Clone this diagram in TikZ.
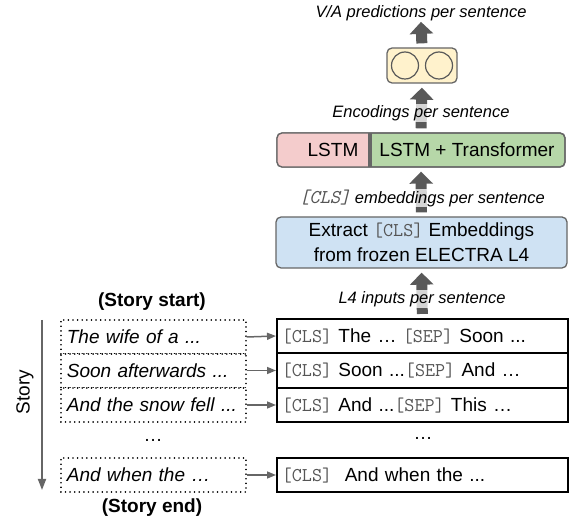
\documentclass[tikz,border=0pt]{standalone}
\usepackage{fontspec}
\setmainfont{Liberation Sans}
\usetikzlibrary{arrows.meta}
\definecolor{arrowgray}{HTML}{595959}
\definecolor{bordergray}{HTML}{666666}
\definecolor{yellowfill}{HTML}{FFF2CC}
\definecolor{pinkfill}{HTML}{F4CCCC}
\definecolor{greenfill}{HTML}{B6D7A8}
\definecolor{bluefill}{HTML}{CFE2F3}
\definecolor{clsgray}{HTML}{555555}
\newcommand{\tk}[1]{{\color{clsgray}\ttfamily\fontsize{19.5pt}{20pt}\selectfont #1}}
\tikzset{
  bigtxt/.style={font=\fontsize{19pt}{25pt}\selectfont, inner sep=0pt},
  lbl/.style={font=\fontsize{16.5pt}{19pt}\selectfont\itshape, fill=white, fill opacity=0.75, text opacity=1, inner sep=1pt},
  bigarrow/.style={draw=arrowgray, line width=11pt, -{Triangle[width=23pt,length=12pt]}, shorten <=4pt, shorten >=4pt},
  roundbox/.style={draw=bordergray, line width=1.3pt, rounded corners=5pt, inner sep=0pt},
  rowbox/.style={draw=black, line width=1.8pt, minimum width=291pt, minimum height=34.3pt, text width=281pt, inner xsep=5pt, align=left, font=\fontsize{19pt}{22pt}\selectfont, anchor=west},
  dotbox/.style={draw=black, line width=1.7pt, dash pattern=on 0.01pt off 4.6pt, line cap=round, minimum width=185pt, minimum height=34pt, text width=173pt, inner xsep=6pt, align=left, font=\fontsize{19pt}{22pt}\selectfont\itshape, anchor=west},
  smallarrow/.style={draw=bordergray, line width=1.5pt, -{Triangle[width=7pt,length=9pt]}},
  plain/.style={font=\fontsize{19pt}{22pt}\selectfont},
}
\begin{document}
\begin{tikzpicture}[x=1pt,y=-1pt]
\useasboundingbox (0,0) rectangle (571,529);

% top prediction box
\node[lbl] (vatxt) at (421,13) {V/A predictions per sentence};
\node[roundbox, fill=yellowfill, minimum width=70pt, minimum height=35pt] (va) at (422,65.5) {};
\node[draw=arrowgray, line width=1.2pt, circle, minimum size=27pt, inner sep=0pt] (c1) at (405,65.5) {};
\node[draw=arrowgray, line width=1.2pt, circle, minimum size=27pt, inner sep=0pt] (c2) at (439,65.5) {};

% LSTM box
\node[roundbox, fill=greenfill, minimum width=288pt, minimum height=34pt] (lstm) at (421,150) {};
\begin{scope}
  \clip[rounded corners=5pt] (277,133) rectangle (565,167);
  \fill[pinkfill] (277,133) rectangle (370,167);
\end{scope}
\draw[draw=bordergray, line width=1.3pt, rounded corners=5pt] (277,133) rectangle (565,167);
\draw[draw=bordergray, line width=3.5pt] (370,133) -- (370,167);
\node[bigtxt] (lstmtxt) at (333,150) {LSTM};
\node[bigtxt] (lstmtr) at (467,150) {LSTM + Transformer};

% Extract box
\node[roundbox, fill=bluefill, minimum width=291pt, minimum height=51pt, align=center, font=\fontsize{19pt}{25pt}\selectfont] (extract) at (421.5,242.5)
  {Extract \tk{[CLS]} Embeddings\\from frozen ELECTRA L4};

% rows
\node[rowbox] (r1) at (276,336) {\tk{[CLS]} The \dots\ \tk{[SEP]} Soon ...};
\node[rowbox] (r2) at (276,370.5) {\tk{[CLS]} Soon ...\tk{[SEP]} And \dots};
\node[rowbox] (r3) at (276,405) {\tk{[CLS]} And ...\tk{[SEP]} This \dots};
\node[plain] (rdots) at (423,438) {\dots};
\node[rowbox] (r4) at (276,475) {\tk{[CLS]}\ \ And when the ...};

% dotted story boxes
\node[dotbox] (d1) at (60,337) {The wife of a ...};
\node[dotbox] (d2) at (60,370.5) {Soon afterwards ...};
\node[dotbox] (d3) at (60,405) {And the snow fell ...};
\node[plain] (ddots) at (153,440) {\dots};
\node[dotbox] (d4) at (60,475) {And when the \dots};

\node[plain, font=\fontsize{19pt}{22pt}\selectfont\bfseries] (sstart) at (152,302) {(Story start)};
\node[plain, font=\fontsize{19pt}{22pt}\selectfont\bfseries] (send) at (152,508) {(Story end)};
\node[plain, rotate=90] (story) at (25,392) {Story};
\coordinate (stA) at (42,320);
\coordinate (stB) at (42,490);
\draw[draw=bordergray, line width=1.8pt, -{Triangle[width=8pt,length=11pt]}] (stA) -- (stB);

% small arrows
\foreach \i in {1,2,3,4} \draw[smallarrow] (d\i.east) -- (r\i.west);

% big arrows
\draw[bigarrow, shorten >=0pt] (va.north) -- (vatxt.south);
\draw[bigarrow] (lstm.north) -- (va.south);
\draw[bigarrow] (extract.north) -- (lstm.south);
\draw[bigarrow] (r1.north) -- (extract.south);

% labels over arrows
\node[lbl] (enc) at (421,113) {Encodings per sentence};
\node[lbl] (clsemb) at (422,198) {\tk{[CLS]} embeddings per sentence};
\node[lbl] (l4in) at (422,299) {L4 inputs per sentence};
\end{tikzpicture}
\end{document}
